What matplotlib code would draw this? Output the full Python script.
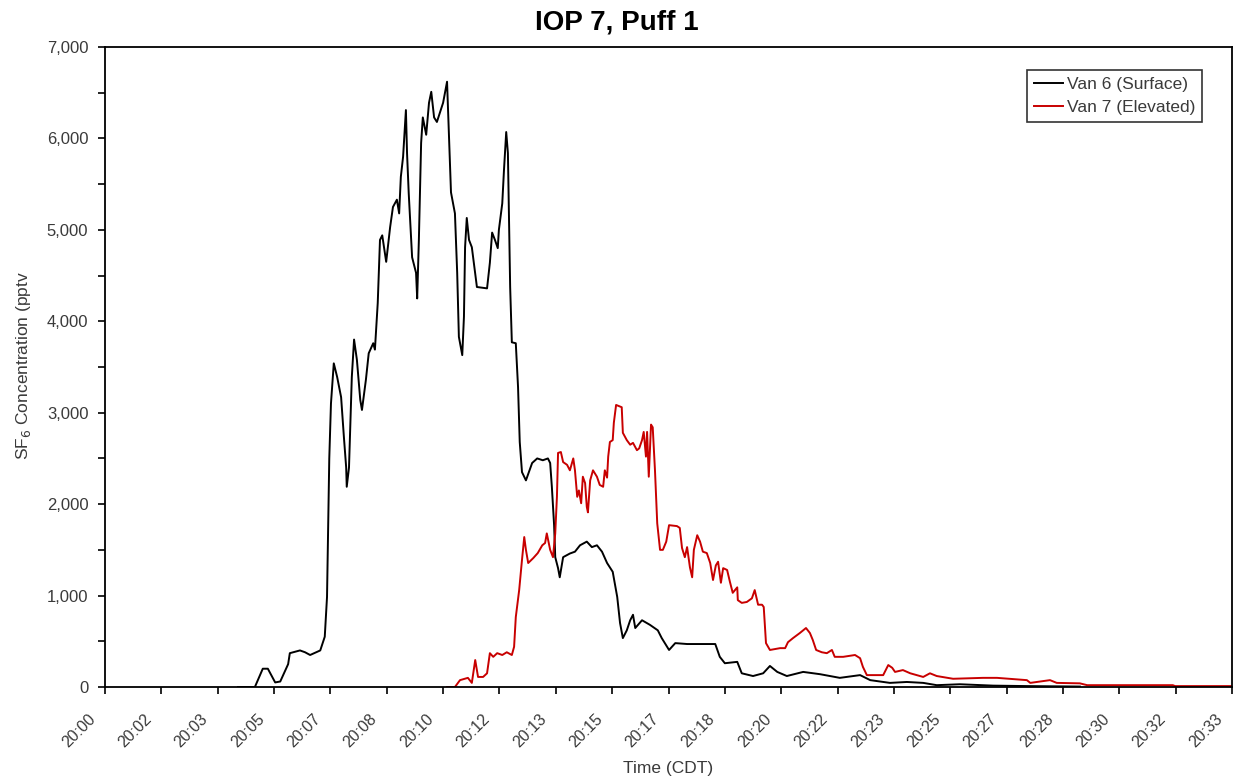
import matplotlib
matplotlib.use("Agg")
import matplotlib.pyplot as plt
import matplotlib.transforms as mtransforms
from matplotlib.ticker import FuncFormatter, MultipleLocator

plt.rcParams['font.family'] = ['Liberation Sans', 'DejaVu Sans']

# seconds after 20:00:00 CDT
van6_t = [236, 266, 280, 289, 296, 302, 311, 325, 328, 346, 355, 364, 382, 390, 394, 398, 401, 406, 412,
          419, 424, 428, 429, 433, 438, 442, 447, 453, 456, 463, 468, 476, 479, 484, 488, 492, 499, 506,
          511, 518, 522, 525, 529, 534, 536, 539, 545, 552, 554, 557, 561, 564, 570, 575, 579, 584, 589,
          600, 607, 610, 614, 621, 625, 628, 634, 637, 639, 642, 646, 651, 660, 678, 683, 687, 692, 697,
          699, 705, 708, 712, 715, 719, 722, 729, 733, 736, 740, 747, 758, 767, 777, 786, 790, 793, 797,
          799, 804, 807, 813, 825, 834, 843, 855, 864, 873, 882, 891, 901, 909, 914, 919, 926, 932, 937,
          941, 953, 967, 981, 988, 1001, 1012, 1033, 1068, 1083, 1091, 1100, 1122, 1130, 1150, 1168, 1180,
          1193, 1210, 1239, 1269, 1304, 1340, 1358, 1393, 1423, 1452, 1476, 1517, 1576, 1636, 1730]
van6_c = [0, 0, 200, 200, 120, 50, 60, 250, 370, 400, 380, 350, 400, 550, 985, 2500, 3100, 3540, 3390,
          3170, 2730, 2400, 2190, 2400, 3390, 3800, 3580, 3140, 3030, 3360, 3650, 3760, 3690, 4200, 4890,
          4940, 4650, 5030, 5250, 5330, 5180, 5580, 5800, 6310, 5840, 5400, 4700, 4530, 4250, 4890, 5950,
          6230, 6040, 6390, 6510, 6230, 6180, 6390, 6620, 6090, 5410, 5180, 4530, 3830, 3630, 4050, 4810,
          5130, 4890, 4810, 4375, 4360, 4640, 4970, 4890, 4800, 5000, 5290, 5650, 6070, 5840, 4375, 3770,
          3760, 3280, 2680, 2350, 2260, 2450, 2500, 2480, 2500, 2450, 2190, 1770, 1420, 1300, 1200, 1420,
          1460, 1480, 1550, 1590, 1530, 1550, 1480, 1356, 1260, 985, 700, 535, 620, 730, 790, 645, 730,
          680, 620, 535, 405, 480, 470, 470, 470, 330, 260, 275, 150, 120, 150, 230, 165, 120, 165, 140,
          100, 130, 75, 45, 55, 45, 20, 30, 15, 10, 5]

van7_t = [607, 621, 630, 644, 651, 657, 662, 671, 678, 683, 689, 696, 705, 713, 722, 726, 729, 735, 740,
          744, 747, 751, 760, 768, 776, 781, 784, 790, 795, 799, 802, 804, 809, 813, 820, 825, 831, 834,
          838, 841, 845, 848, 852, 855, 857, 861, 866, 873, 878, 884, 887, 891, 893, 896, 901, 903, 907,
          917, 919, 926, 932, 937, 944, 948, 953, 956, 960, 962, 965, 969, 972, 976, 980, 985, 990, 996,
          1001, 1015, 1020, 1024, 1029, 1033, 1038, 1042, 1045, 1051, 1056, 1061, 1068, 1074, 1079, 1084,
          1088, 1093, 1097, 1104, 1109, 1114, 1122, 1123, 1130, 1139, 1148, 1153, 1159, 1166, 1169, 1173,
          1180, 1198, 1207, 1212, 1221, 1233, 1244, 1251, 1256, 1262, 1272, 1281, 1290, 1295, 1310, 1331,
          1340, 1345, 1352, 1381, 1390, 1397, 1402, 1416, 1429, 1452, 1464, 1476, 1505, 1558, 1583, 1636,
          1642, 1677, 1689, 1730, 1743, 1895, 1899, 2000]
van7_c = [0, 0, 75, 100, 45, 295, 110, 110, 150, 370, 330, 370, 350, 380, 350, 440, 765, 1060, 1390,
          1640, 1500, 1356, 1410, 1465, 1550, 1575, 1680, 1500, 1420, 1680, 2080, 2560, 2570, 2460, 2430,
          2370, 2500, 2370, 2080, 2150, 2010, 2300, 2230, 1970, 1910, 2260, 2370, 2300, 2210, 2190, 2370,
          2290, 2520, 2680, 2700, 2890, 3085, 3060, 2780, 2700, 2650, 2670, 2590, 2610, 2700, 2790, 2520,
          2790, 2300, 2870, 2840, 2370, 1790, 1500, 1500, 1590, 1770, 1760, 1740, 1520, 1420, 1530, 1310,
          1200, 1500, 1660, 1590, 1480, 1465, 1356, 1170, 1330, 1370, 1140, 1300, 1280, 1150, 1030, 1090,
          950, 920, 930, 970, 1060, 900, 900, 875, 480, 405, 425, 425, 490, 535, 590, 645, 590, 515, 405,
          380, 370, 405, 330, 330, 350, 315, 220, 130, 130, 240, 210, 165, 185, 150, 110, 150, 120, 90,
          100, 100, 75, 45, 75, 45, 40, 20, 20, 10, 10]

tick_secs = list(range(0, 2001, 100))
tick_labels = ["20:00", "20:02", "20:03", "20:05", "20:07", "20:08", "20:10", "20:12", "20:13", "20:15",
               "20:17", "20:18", "20:20", "20:22", "20:23", "20:25", "20:27", "20:28", "20:30", "20:32",
               "20:33"]

W, H = 1235, 782
fig = plt.figure(figsize=(W/100, H/100), dpi=100)
ax = fig.add_axes([105/W, 1-687/H, (1232-105)/W, (687-47)/H])

ax.plot(van6_t, van6_c, color='black', lw=1.4, label='Van 6 (Surface)')
ax.plot(van7_t, van7_c, color='#c80000', lw=1.4, label='Van 7 (Elevated)')

ax.set_xlim(0, 2000)
ax.set_ylim(0, 7000)
ax.set_xticks(tick_secs)
ax.set_xticklabels([])
# rotated time labels, placed below and slightly left of each tick (as in the original)
lab_trans = ax.get_xaxis_transform() + mtransforms.ScaledTranslation(-0.12, -0.30, fig.dpi_scale_trans)
for ts, lab in zip(tick_secs, tick_labels):
    ax.text(ts, 0, lab, transform=lab_trans, rotation=45, ha='right', va='center',
            rotation_mode='anchor', color='#3a3a3a', fontsize=11.5, clip_on=False)

ax.yaxis.set_major_locator(MultipleLocator(1000))
ax.yaxis.set_minor_locator(MultipleLocator(500))
ax.yaxis.set_major_formatter(FuncFormatter(lambda v, p: f"{int(v):,}"))
ax.tick_params(axis='y', which='both', direction='out', length=5, width=1.2, pad=7,
               labelsize=12, colors='black', labelcolor='#3a3a3a')
ax.tick_params(axis='x', which='major', direction='out', length=5, width=1.2)
for s in ax.spines.values():
    s.set_linewidth(1.3)

fig.text(617/W, 1-22/H, 'IOP 7, Puff 1', ha='center', va='center', fontsize=20, fontweight='bold')
fig.text(668/W, 1-768/H, 'Time (CDT)', ha='center', va='center', fontsize=12.5, color='#3a3a3a')
fig.text(24/W, 1-365/H, 'SF$_6$ Concentration (pptv', ha='center', va='center', rotation=90,
         fontsize=12.5, color='#3a3a3a')

leg = ax.legend(loc='upper right', bbox_to_anchor=(1202/W, 1-70/H), bbox_transform=fig.transFigure,
                frameon=True, fancybox=False, edgecolor='black', fontsize=12.5, handlelength=1.7,
                handletextpad=0.2, borderpad=0.4, labelspacing=0.45, borderaxespad=0)
leg.get_frame().set_linewidth(1.2)
for t in leg.get_texts():
    t.set_color('#3a3a3a')

fig.savefig('out.png', dpi=100)
